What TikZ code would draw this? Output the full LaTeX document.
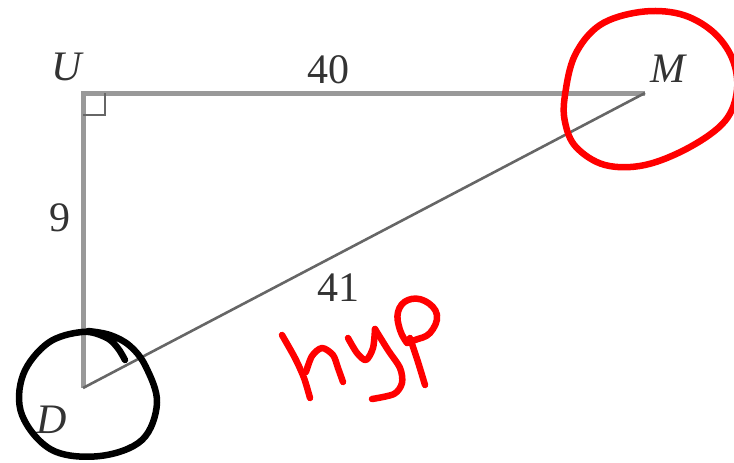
\documentclass[tikz,border=0pt]{standalone}
\usepackage{fontspec}
\setmainfont{Liberation Serif}
\usetikzlibrary{calc, positioning}
\colorlet{colorLeg}{black!40}
\colorlet{colorHyp}{black!60}
\colorlet{colorInk}{red}
\colorlet{colorPen}{black}
\tikzset{vertex/.style={font=\fontsize{42}{44}\selectfont\itshape, text=black!80, inner sep=0pt},
  length/.style={font=\fontsize{42}{44}\selectfont, text=black!80, inner sep=0pt},
  stroke/.style={line width=6.5pt, line cap=round, line join=round}}

\begin{document}
\begin{tikzpicture}[x=1pt, y=-1pt]
\useasboundingbox (0,0) rectangle (734,463);
\coordinate (U) at (83,93);
\coordinate (M) at (645,93);
\coordinate (D) at (83,388);
% triangle
\draw [colorLeg, line width=5pt] (M) -- (U) -- (D);
\draw [colorHyp, line width=2.6pt] (D) -- (M);
\draw [black!60, line width=2.6pt] ($(U)+(22,0)$) -- ($(U)+(22,22)$) -- ($(U)+(0,22)$);
% labels
\node[vertex] (labU) at (67,67) {U};
\node[vertex] (labM) at (668,69) {M};
\node[vertex] (labD) at (52,420) {D};
\node[length] (len40) at (328,70) {40};
\node[length] (len9) at (60,218) {9};
\node[length] (len41) at (338,288) {41};
% hand marks
\draw [colorInk, stroke] plot[smooth cycle, tension=0.6] coordinates {(565,95) (575,55) (600,25) (640,12) (680,14) (712,31) (732,58) (737,90) (725,121) (690,147) (645,165) (605,165) (576,147) (565,122)};
\draw [colorPen, stroke] plot[smooth, tension=0.6] coordinates {(125,360) (117,347) (105,337) (82,332) (48,343) (23,375) (22,415) (52,450) (100,456) (142,440) (157,403) (146,367) (130,346) (110,335) (88,331)};
\draw [colorInk, stroke] plot[smooth] coordinates {(282,335) (295,358) (304,378) (310,398)};
\draw [colorInk, stroke] plot[smooth] coordinates {(306,372) (312,356) (322,348) (333,355) (338,368) (343,382)};
\draw [colorInk, stroke] plot[smooth] coordinates {(348,338) (357,353) (366,360) (373,348) (375,329)};
\draw [colorInk, stroke] plot[smooth] coordinates {(375,329) (388,350) (400,368) (402,383) (394,394) (372,399)};
\draw [colorInk, stroke] plot[smooth] coordinates {(410,338) (418,362) (425,385)};
\draw [colorInk, stroke] plot[smooth, tension=0.7] coordinates {(407,343) (400,330) (398,312) (408,300) (425,301) (437,315) (430,333) (415,340) (407,343)};
\end{tikzpicture}
\end{document}
